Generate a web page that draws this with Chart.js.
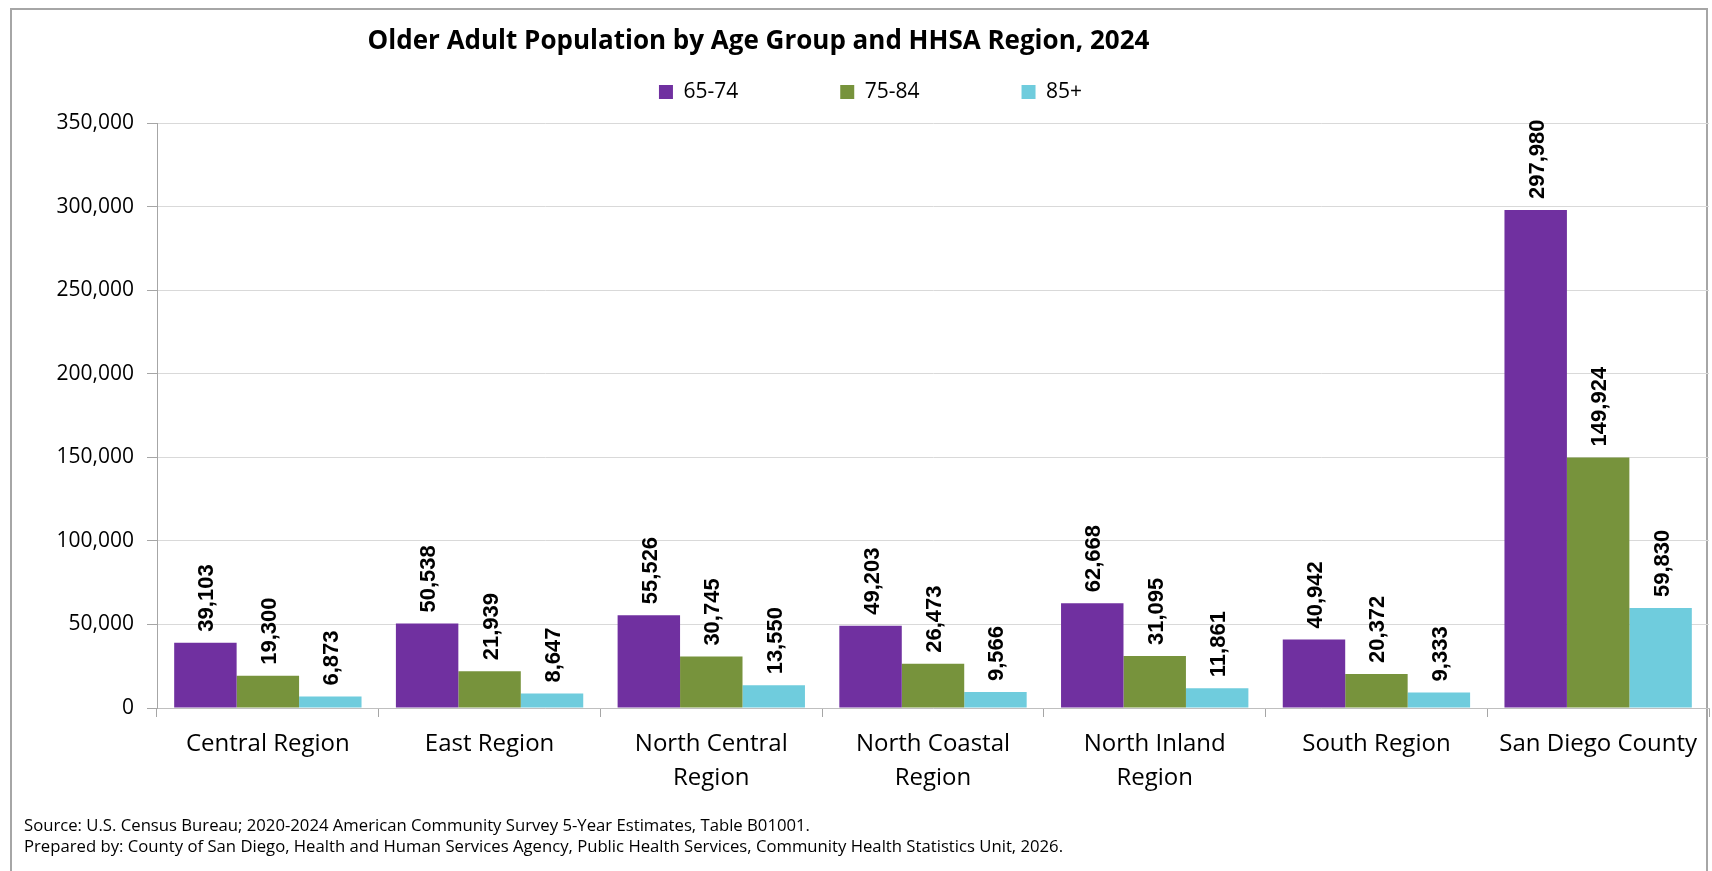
<!DOCTYPE html>
<html>
<head>
<meta charset="utf-8">
<script src="https://cdn.jsdelivr.net/npm/chart.js@4.4.1/dist/chart.umd.min.js"></script>
<style>
  html, body { margin: 0; padding: 0; background: #fff; }
  #frame {
    position: absolute; left: 10px; top: 8px; width: 1698px; height: 900px;
    border: 2px solid #a6a6a6; box-sizing: border-box;
  }
  #chartBox { position: absolute; left: 0; top: 0; width: 1712px; height: 871px; }
</style>
</head>
<body>
<div id="frame"></div>
<div id="chartBox"><canvas id="popChart" width="1712" height="871"></canvas></div>
<script>
const regions = [
  ['Central Region'],
  ['East Region'],
  ['North Central', 'Region'],
  ['North Coastal', 'Region'],
  ['North Inland', 'Region'],
  ['South Region'],
  ['San Diego County']
];
const age65to74 = [39103, 50538, 55526, 49203, 62668, 40942, 297980];
const age75to84 = [19300, 21939, 30745, 26473, 31095, 20372, 149924];
const age85plus = [6873, 8647, 13550, 9566, 11861, 9333, 59830];
const yTicks = [0, 50000, 100000, 150000, 200000, 250000, 300000, 350000];

const mainFont = '"Open Sans", "Noto Sans", sans-serif';

// rotated value labels above each bar
const barLabels = {
  id: 'barLabels',
  afterDatasetsDraw(chart) {
    const ctx = chart.ctx;
    chart.data.datasets.forEach((ds, i) => {
      const meta = chart.getDatasetMeta(i);
      meta.data.forEach((bar, j) => {
        ctx.save();
        ctx.translate(bar.x, bar.y - 11);
        ctx.rotate(-Math.PI / 2);
        ctx.font = 'bold 22px "Liberation Sans", Arial, sans-serif';
        ctx.fillStyle = '#000';
        ctx.textAlign = 'left';
        ctx.textBaseline = 'alphabetic';
        ctx.fillText(ds.data[j].toLocaleString('en-US'), 0, 8);
        ctx.restore();
      });
    });
  }
};

// the title and legend are not centred on the canvas in the original
const placeHeader = {
  id: 'placeHeader',
  afterLayout(chart) {
    const t = chart.titleBlock;
    t.left = 24 - 108;
    t.right = 1709 - 108;
    const lg = chart.legend;
    lg.left = 24 + 4;
    lg.right = 1709 + 4;
    lg.top = 92 - 10.5 - lg.options.labels.padding;
  }
};

new Chart(document.getElementById('popChart'), {
  type: 'bar',
  data: {
    labels: regions,
    datasets: [
      { label: '65-74', data: age65to74, backgroundColor: '#7030A0', borderWidth: 0 },
      { label: '75-84', data: age75to84, backgroundColor: '#77933C', borderWidth: 0 },
      { label: '85+', data: age85plus, backgroundColor: '#6FCCDD', borderWidth: 0 }
    ]
  },
  options: {
    responsive: false,
    animation: false,
    devicePixelRatio: 1,
    categoryPercentage: 0.845,
    barPercentage: 1.0,
    layout: { padding: { left: 24, right: 3, top: 10, bottom: 13.5 } },
    scales: {
      x: {
        afterFit(scale) { scale.height = 107.5; },
        grid: { drawOnChartArea: false, drawTicks: true, tickLength: 9, color: '#a6a6a6' },
        border: { display: true, color: '#bfbfbf', width: 1 },
        ticks: {
          color: '#000', padding: 10, maxRotation: 0, autoSkip: false,
          font: { family: mainFont, size: 24, lineHeight: 1.42 }
        }
      },
      y: {
        min: 0, max: 350000,
        afterFit(scale) { scale.width = 133; },
        afterBuildTicks(scale) { scale.ticks = yTicks.map(v => ({ value: v })); },
        grid: { color: '#d9d9d9', tickColor: '#a6a6a6', tickLength: 10, lineWidth: 1 },
        border: { display: true, color: '#a6a6a6', width: 1 },
        ticks: {
          color: '#000', padding: 13,
          font: { family: mainFont, size: 21 },
          callback: v => v.toLocaleString('en-US')
        }
      }
    },
    plugins: {
      title: {
        display: true,
        text: 'Older Adult Population by Age Group and HHSA Region, 2024',
        color: '#000',
        font: { family: mainFont, size: 26, weight: 'bold', lineHeight: 1.2 },
        padding: { top: 15.9, bottom: 0 }
      },
      legend: {
        position: 'top',
        maxHeight: 65.9,
        labels: {
          color: '#000', boxWidth: 14, boxHeight: 14, padding: 102,
          font: { family: mainFont, size: 21 }
        }
      },
      subtitle: {
        display: true,
        position: 'bottom',
        align: 'start',
        color: '#000',
        text: [
          'Source: U.S. Census Bureau; 2020-2024 American Community Survey 5-Year Estimates, Table B01001.',
          'Prepared by: County of San Diego, Health and Human Services Agency, Public Health Services, Community Health Statistics Unit, 2026.'
        ],
        font: { family: mainFont, size: 16.7, lineHeight: '21px' },
        padding: 0
      },
      tooltip: { enabled: false }
    }
  },
  plugins: [barLabels, placeHeader]
});
</script>
</body>
</html>
